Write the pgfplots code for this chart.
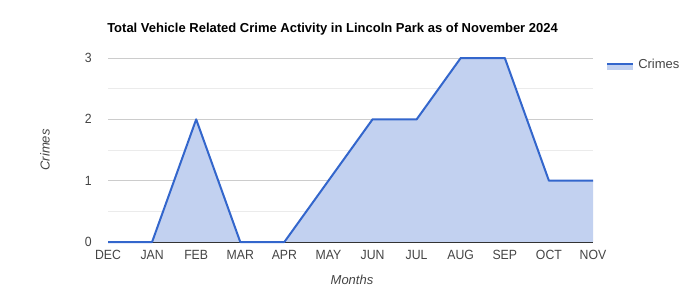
\documentclass[border=0pt]{standalone}
\usepackage{pgfplots}
\pgfplotsset{compat=1.18}
\usepackage{fontspec}
\setmainfont{Liberation Sans}
\newfontfamily\narrowfont[FakeStretch=0.92]{Liberation Sans}
\definecolor{lineblue}{HTML}{3366CC}
\definecolor{fillblue}{RGB}{194,209,240}
\definecolor{txtgray}{HTML}{444444}
\definecolor{majgrid}{HTML}{CCCCCC}
\definecolor{mingrid}{HTML}{EBEBEB}
\begin{document}
\begin{tikzpicture}[x=0.75pt,y=0.75pt]
\path[use as bounding box] (0,0) rectangle (700,300);
\begin{axis}[
  at={(81pt,43.5pt)}, anchor=south west,
  scale only axis, width=363.75pt, height=138pt,
  xmin=0, xmax=11, ymin=0, ymax=3,
  axis line style={draw=none},
  xtick={0,...,11},
  xticklabels={DEC,JAN,FEB,MAR,APR,MAY,JUN,JUL,AUG,SEP,OCT,NOV},
  ytick={0,1,2,3},
  minor ytick={0.5,1.5,2.5},
  ymajorgrids, yminorgrids,
  major grid style={majgrid, line width=0.75pt},
  minor grid style={mingrid, line width=0.75pt},
  major tick length=0pt, minor tick length=0pt,
  tick label style={font=\narrowfont\fontsize{10pt}{12pt}\selectfont, text=txtgray, inner sep=0pt},
  /pgf/number format/assume math mode=true,
  xticklabel style={anchor=center, yshift=-9.75pt},
  yticklabel style={anchor=east, xshift=-12pt},
  clip=false,
]
\addplot[draw=none, fill=fillblue] coordinates {(0,0) (1,0) (2,2) (3,0) (4,0) (5,1) (6,2) (7,2) (8,3) (9,3) (10,1) (11,1)} \closedcycle;
\draw[color=black!80, line width=0.75pt] (axis cs:0,0) -- (axis cs:11,0);
\addplot[lineblue, line width=1.5pt, line join=round] coordinates {(0,0) (1,0) (2,2) (3,0) (4,0) (5,1) (6,2) (7,2) (8,3) (9,3) (10,1) (11,1)};
\end{axis}
\node[anchor=base west, font=\bfseries\fontsize{9.75pt}{11pt}\selectfont, inner sep=0pt] at (107,300-33) {Total Vehicle Related Crime Activity in Lincoln Park as of November 2024};
\node[font=\itshape\fontsize{9.75pt}{11pt}\selectfont, text=txtgray, inner sep=0pt] at (352,300-280) {Months};
\node[font=\itshape\fontsize{9.75pt}{11pt}\selectfont, text=txtgray, inner sep=0pt, rotate=90] at (45,300-150) {Crimes};
\fill[fillblue] (607,300-64) rectangle (633,300-70);
\draw[lineblue, line width=1.5pt] (607,300-64) -- (633,300-64);
\node[anchor=west, font=\fontsize{9.75pt}{11pt}\selectfont, text=txtgray, inner sep=0pt] at (638,300-63.5) {Crimes};
\end{tikzpicture}
\end{document}
